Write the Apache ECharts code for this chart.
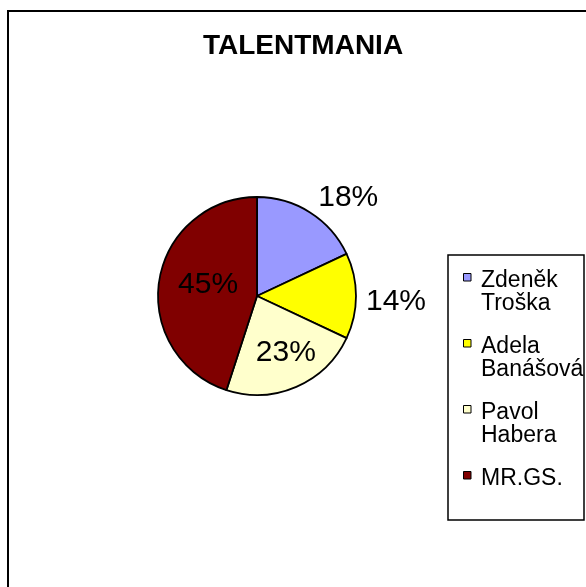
<!DOCTYPE html>
<html><head><meta charset="utf-8">
<script src="https://cdn.jsdelivr.net/npm/echarts@6/dist/echarts.min.js"></script>
<style>html,body{margin:0;padding:0;background:#fff;}#c{width:586px;height:587px;}</style>
</head><body><div id="c"></div>
<script>
// ---- data ----
const titleText = 'TALENTMANIA';
const names = ['Zdeněk Troška', 'Adela Banášová', 'Pavol Habera', 'MR.GS.'];
const values = [18, 14, 23, 45];

// ---- styles ----
const colors = ['#9999FF', '#FFFF00', '#FFFFCC', '#800000'];
const labelPos = ['outside', 'outside', 'inside', 'inside'];
const labelLen = [19, 10, 0, 0];
const labelShift = [[-2, 1], [0, 6], [8, 9], [3, -3]];
const FONT = '"Liberation Sans", Arial, sans-serif';

const chart = echarts.init(document.getElementById('c'), null, {renderer: 'canvas'});

// legend built as graphic (Excel-style: marker aligned to first line)
const legendItems = [];
const lineH = 23, gap = 20;
let itemTop = 269.5;
names.forEach((n, i) => {
  const txt = n.replace(' ', '\n');
  const lines = txt.split('\n').length;
  const firstCenter = itemTop + lineH / 2;
  legendItems.push({
    type: 'rect',
    shape: {x: 463.5, y: firstCenter - 7.5, width: 7.5, height: 7.5},
    style: {fill: colors[i], stroke: '#000', lineWidth: 1}
  });
  legendItems.push({
    type: 'text',
    x: 481, y: itemTop,
    style: {text: txt, font: '23px ' + FONT, lineHeight: lineH, fill: '#000', verticalAlign: 'top', align: 'left'}
  });
  itemTop += lines * lineH + gap;
});

const option = {
  animation: false,
  backgroundColor: '#fff',
  title: {
    text: titleText,
    left: 203, top: 32, padding: 0,
    textStyle: {fontFamily: FONT, fontWeight: 'bold', fontSize: 28, color: '#000'}
  },
  graphic: [
    {type: 'rect', shape: {x: 8, y: 11, width: 800, height: 800}, style: {fill: 'none', stroke: '#000', lineWidth: 2}, silent: true},
    {type: 'rect', shape: {x: 448, y: 255, width: 136, height: 265}, style: {fill: '#fff', stroke: '#000', lineWidth: 1.5}, silent: true},
    ...legendItems
  ],
  series: [{
    type: 'pie',
    center: [257, 296],
    radius: 99,
    startAngle: 90,
    clockwise: true,
    avoidLabelOverlap: false,
    silent: true,
    emphasis: {scale: false},
    itemStyle: {borderColor: '#000', borderWidth: 1.8},
    label: {
      fontFamily: FONT, fontSize: 30, color: '#000',
      distanceToLabelLine: 0,
      formatter: p => Math.round(p.percent) + '%'
    },
    labelLayout: p => ({dx: labelShift[p.dataIndex][0], dy: labelShift[p.dataIndex][1]}),
    data: names.map((n, i) => ({
      name: n,
      value: values[i],
      itemStyle: {color: colors[i]},
      label: {position: labelPos[i]},
      labelLine: {show: false, length: labelLen[i], length2: 0}
    }))
  }]
};
chart.setOption(option);
</script>
</body></html>
